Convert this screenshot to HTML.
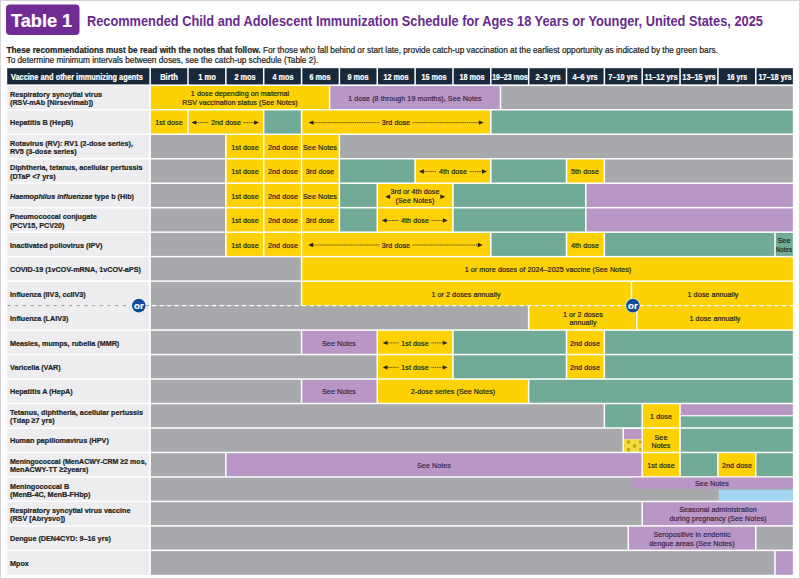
<!DOCTYPE html>
<html><head><meta charset="utf-8"><title>Table 1</title>
<style>
html,body{margin:0;padding:0;background:#fff;}
body{width:800px;height:579px;position:relative;overflow:hidden;font-family:'Liberation Sans', sans-serif;}
.r{position:absolute;}
.t{position:absolute;white-space:nowrap;-webkit-text-stroke:0.22px currentColor;}
#frame{position:absolute;left:0;top:0;width:798px;height:577px;border:1px solid #d4d4d6;}
svg{position:absolute;left:0;top:0;}
.dl{stroke:#231f20;stroke-width:1;stroke-dasharray:1.2 0.6;opacity:0.7;}
</style></head><body>
<div id="frame"></div>

<svg width="800" height="579" viewBox="0 0 800 579">
<rect x="6.00" y="4.50" width="73.50" height="30.50" fill="#702c94" rx="4"/>
<rect x="7.20" y="68.20" width="142.20" height="16.20" fill="#17293a"/>
<rect x="150.90" y="68.20" width="36.35" height="16.20" fill="#17293a"/>
<rect x="188.75" y="68.20" width="36.35" height="16.20" fill="#17293a"/>
<rect x="226.60" y="68.20" width="36.35" height="16.20" fill="#17293a"/>
<rect x="264.45" y="68.20" width="36.35" height="16.20" fill="#17293a"/>
<rect x="302.30" y="68.20" width="36.35" height="16.20" fill="#17293a"/>
<rect x="340.15" y="68.20" width="36.35" height="16.20" fill="#17293a"/>
<rect x="378.00" y="68.20" width="36.35" height="16.20" fill="#17293a"/>
<rect x="415.85" y="68.20" width="36.35" height="16.20" fill="#17293a"/>
<rect x="453.70" y="68.20" width="36.35" height="16.20" fill="#17293a"/>
<rect x="491.55" y="68.20" width="36.35" height="16.20" fill="#17293a"/>
<rect x="529.40" y="68.20" width="36.35" height="16.20" fill="#17293a"/>
<rect x="567.25" y="68.20" width="36.35" height="16.20" fill="#17293a"/>
<rect x="605.10" y="68.20" width="36.35" height="16.20" fill="#17293a"/>
<rect x="642.95" y="68.20" width="36.35" height="16.20" fill="#17293a"/>
<rect x="680.80" y="68.20" width="36.35" height="16.20" fill="#17293a"/>
<rect x="718.65" y="68.20" width="36.35" height="16.20" fill="#17293a"/>
<rect x="756.50" y="68.20" width="36.35" height="16.20" fill="#17293a"/>
<rect x="7.20" y="86.05" width="142.20" height="22.98" fill="#ededf0"/>
<rect x="7.20" y="110.53" width="142.20" height="22.98" fill="#ededf0"/>
<rect x="7.20" y="135.01" width="142.20" height="22.98" fill="#ededf0"/>
<rect x="7.20" y="159.48" width="142.20" height="22.98" fill="#ededf0"/>
<rect x="7.20" y="183.96" width="142.20" height="22.98" fill="#ededf0"/>
<rect x="7.20" y="208.44" width="142.20" height="22.98" fill="#ededf0"/>
<rect x="7.20" y="232.92" width="142.20" height="22.98" fill="#ededf0"/>
<rect x="7.20" y="257.40" width="142.20" height="22.98" fill="#ededf0"/>
<rect x="7.20" y="281.87" width="142.20" height="23.73" fill="#ededf0"/>
<rect x="7.20" y="305.60" width="142.20" height="23.73" fill="#ededf0"/>
<rect x="7.20" y="330.83" width="142.20" height="22.98" fill="#ededf0"/>
<rect x="7.20" y="355.31" width="142.20" height="22.98" fill="#ededf0"/>
<rect x="7.20" y="379.79" width="142.20" height="22.98" fill="#ededf0"/>
<rect x="7.20" y="404.26" width="142.20" height="22.98" fill="#ededf0"/>
<rect x="7.20" y="428.74" width="142.20" height="22.98" fill="#ededf0"/>
<rect x="7.20" y="453.22" width="142.20" height="22.98" fill="#ededf0"/>
<rect x="7.20" y="477.70" width="142.20" height="22.98" fill="#ededf0"/>
<rect x="7.20" y="502.18" width="142.20" height="22.98" fill="#ededf0"/>
<rect x="7.20" y="526.65" width="142.20" height="22.98" fill="#ededf0"/>
<rect x="7.20" y="551.13" width="142.20" height="23.67" fill="#ededf0"/>
<rect x="150.90" y="86.05" width="177.95" height="22.98" fill="#fed105"/>
<rect x="330.35" y="86.05" width="169.40" height="22.98" fill="#b897c7"/>
<rect x="501.25" y="86.05" width="291.60" height="22.98" fill="#a8a9ad"/>
<rect x="150.90" y="110.53" width="36.35" height="22.98" fill="#fed105"/>
<rect x="188.75" y="110.53" width="74.20" height="22.98" fill="#fed105"/>
<rect x="264.45" y="110.53" width="36.35" height="22.98" fill="#71ab97"/>
<rect x="302.30" y="110.53" width="187.75" height="22.98" fill="#fed105"/>
<rect x="491.55" y="110.53" width="301.30" height="22.98" fill="#71ab97"/>
<rect x="150.90" y="135.01" width="74.20" height="22.98" fill="#a8a9ad"/>
<rect x="226.60" y="135.01" width="36.35" height="22.98" fill="#fed105"/>
<rect x="264.45" y="135.01" width="36.35" height="22.98" fill="#fed105"/>
<rect x="302.30" y="135.01" width="36.35" height="22.98" fill="#fed105"/>
<rect x="340.15" y="135.01" width="452.70" height="22.98" fill="#a8a9ad"/>
<rect x="150.90" y="159.48" width="74.20" height="22.98" fill="#a8a9ad"/>
<rect x="226.60" y="159.48" width="36.35" height="22.98" fill="#fed105"/>
<rect x="264.45" y="159.48" width="36.35" height="22.98" fill="#fed105"/>
<rect x="302.30" y="159.48" width="36.35" height="22.98" fill="#fed105"/>
<rect x="340.15" y="159.48" width="74.20" height="22.98" fill="#71ab97"/>
<rect x="415.85" y="159.48" width="74.20" height="22.98" fill="#fed105"/>
<rect x="491.55" y="159.48" width="74.20" height="22.98" fill="#71ab97"/>
<rect x="567.25" y="159.48" width="36.35" height="22.98" fill="#fed105"/>
<rect x="605.10" y="159.48" width="187.75" height="22.98" fill="#a8a9ad"/>
<rect x="150.90" y="183.96" width="74.20" height="22.98" fill="#a8a9ad"/>
<rect x="226.60" y="183.96" width="36.35" height="22.98" fill="#fed105"/>
<rect x="264.45" y="183.96" width="36.35" height="22.98" fill="#fed105"/>
<rect x="302.30" y="183.96" width="36.35" height="22.98" fill="#fed105"/>
<rect x="340.15" y="183.96" width="36.35" height="22.98" fill="#71ab97"/>
<rect x="378.00" y="183.96" width="74.20" height="22.98" fill="#fed105"/>
<rect x="453.70" y="183.96" width="131.30" height="22.98" fill="#71ab97"/>
<rect x="586.50" y="183.96" width="206.35" height="22.98" fill="#b897c7"/>
<rect x="150.90" y="208.44" width="74.20" height="22.98" fill="#a8a9ad"/>
<rect x="226.60" y="208.44" width="36.35" height="22.98" fill="#fed105"/>
<rect x="264.45" y="208.44" width="36.35" height="22.98" fill="#fed105"/>
<rect x="302.30" y="208.44" width="36.35" height="22.98" fill="#fed105"/>
<rect x="340.15" y="208.44" width="36.35" height="22.98" fill="#71ab97"/>
<rect x="378.00" y="208.44" width="74.20" height="22.98" fill="#fed105"/>
<rect x="453.70" y="208.44" width="131.30" height="22.98" fill="#71ab97"/>
<rect x="586.50" y="208.44" width="206.35" height="22.98" fill="#b897c7"/>
<rect x="150.90" y="232.92" width="74.20" height="22.98" fill="#a8a9ad"/>
<rect x="226.60" y="232.92" width="36.35" height="22.98" fill="#fed105"/>
<rect x="264.45" y="232.92" width="36.35" height="22.98" fill="#fed105"/>
<rect x="302.30" y="232.92" width="187.75" height="22.98" fill="#fed105"/>
<rect x="491.55" y="232.92" width="74.20" height="22.98" fill="#71ab97"/>
<rect x="567.25" y="232.92" width="36.35" height="22.98" fill="#fed105"/>
<rect x="605.10" y="232.92" width="169.15" height="22.98" fill="#71ab97"/>
<rect x="775.75" y="232.92" width="17.10" height="22.98" fill="#71ab97"/>
<rect x="150.90" y="257.40" width="149.90" height="22.98" fill="#a8a9ad"/>
<rect x="302.30" y="257.40" width="490.55" height="22.98" fill="#fed105"/>
<rect x="150.90" y="281.87" width="149.90" height="23.73" fill="#a8a9ad"/>
<rect x="302.30" y="281.87" width="328.35" height="23.73" fill="#fed105"/>
<rect x="632.15" y="281.87" width="160.70" height="23.73" fill="#fed105"/>
<rect x="150.90" y="305.60" width="377.00" height="23.73" fill="#a8a9ad"/>
<rect x="529.40" y="305.60" width="106.65" height="23.73" fill="#fed105"/>
<rect x="637.55" y="305.60" width="155.30" height="23.73" fill="#fed105"/>
<rect x="150.90" y="330.83" width="149.90" height="22.98" fill="#a8a9ad"/>
<rect x="302.30" y="330.83" width="74.20" height="22.98" fill="#b897c7"/>
<rect x="378.00" y="330.83" width="74.20" height="22.98" fill="#fed105"/>
<rect x="453.70" y="330.83" width="112.05" height="22.98" fill="#71ab97"/>
<rect x="567.25" y="330.83" width="36.35" height="22.98" fill="#fed105"/>
<rect x="605.10" y="330.83" width="187.75" height="22.98" fill="#71ab97"/>
<rect x="150.90" y="355.31" width="225.60" height="22.98" fill="#a8a9ad"/>
<rect x="378.00" y="355.31" width="74.20" height="22.98" fill="#fed105"/>
<rect x="453.70" y="355.31" width="112.05" height="22.98" fill="#71ab97"/>
<rect x="567.25" y="355.31" width="36.35" height="22.98" fill="#fed105"/>
<rect x="605.10" y="355.31" width="187.75" height="22.98" fill="#71ab97"/>
<rect x="150.90" y="379.79" width="149.90" height="22.98" fill="#a8a9ad"/>
<rect x="302.30" y="379.79" width="74.20" height="22.98" fill="#b897c7"/>
<rect x="378.00" y="379.79" width="149.90" height="22.98" fill="#fed105"/>
<rect x="529.40" y="379.79" width="263.45" height="22.98" fill="#71ab97"/>
<rect x="150.90" y="404.26" width="452.70" height="22.98" fill="#a8a9ad"/>
<rect x="605.10" y="404.26" width="36.35" height="22.98" fill="#71ab97"/>
<rect x="642.95" y="404.26" width="36.35" height="22.98" fill="#fed105"/>
<rect x="680.80" y="404.26" width="112.05" height="10.89" fill="#b897c7"/>
<rect x="680.80" y="416.35" width="112.05" height="10.89" fill="#71ab97"/>
<rect x="150.90" y="428.74" width="471.60" height="22.98" fill="#a8a9ad"/>
<rect x="624.00" y="429.04" width="17.45" height="10.36" fill="#b897c7"/>
<rect x="624.00" y="439.40" width="17.45" height="12.32" fill="#f3dc3c"/>
<rect x="627.00" y="440.50" width="3.20" height="3.10" fill="#c4a02a"/>
<rect x="639.20" y="440.50" width="2.25" height="3.10" fill="#c4a02a"/>
<rect x="633.00" y="444.40" width="3.20" height="3.10" fill="#c4a02a"/>
<rect x="624.00" y="444.40" width="0.40" height="3.10" fill="#c4a02a"/>
<rect x="627.00" y="448.20" width="3.20" height="3.05" fill="#c4a02a"/>
<rect x="639.20" y="448.20" width="2.25" height="3.05" fill="#c4a02a"/>
<rect x="642.95" y="428.74" width="36.35" height="22.98" fill="#fed105"/>
<rect x="680.80" y="428.74" width="112.05" height="22.98" fill="#71ab97"/>
<rect x="150.90" y="453.22" width="74.20" height="22.98" fill="#a8a9ad"/>
<rect x="226.60" y="453.22" width="414.85" height="22.98" fill="#b897c7"/>
<rect x="642.95" y="453.22" width="36.35" height="22.98" fill="#fed105"/>
<rect x="680.80" y="453.22" width="36.35" height="22.98" fill="#71ab97"/>
<rect x="718.65" y="453.22" width="36.35" height="22.98" fill="#fed105"/>
<rect x="756.50" y="453.22" width="36.35" height="22.98" fill="#71ab97"/>
<rect x="150.90" y="477.70" width="641.95" height="22.98" fill="#a8a9ad"/>
<rect x="631.75" y="477.70" width="161.10" height="10.89" fill="#b897c7"/>
<rect x="718.65" y="489.79" width="74.20" height="10.89" fill="#a3d6f2"/>
<rect x="150.90" y="502.18" width="490.55" height="22.98" fill="#a8a9ad"/>
<rect x="642.95" y="502.18" width="149.90" height="22.98" fill="#b897c7"/>
<rect x="150.90" y="526.65" width="476.65" height="22.98" fill="#a8a9ad"/>
<rect x="629.05" y="526.65" width="125.95" height="22.98" fill="#b897c7"/>
<rect x="756.50" y="526.65" width="36.35" height="22.98" fill="#a8a9ad"/>
<rect x="150.90" y="551.13" width="623.35" height="23.67" fill="#a8a9ad"/>
<rect x="775.75" y="551.13" width="17.10" height="23.67" fill="#b897c7"/>
<path d="M191.50 122.62L196.30 120.42L196.30 124.82Z" fill="#231f20"/>
<path d="M258.95 122.62L254.15 120.42L254.15 124.82Z" fill="#231f20"/>
<line x1="196.30" y1="122.62" x2="208.37" y2="122.62" class="dl"/>
<line x1="243.33" y1="122.62" x2="254.15" y2="122.62" class="dl"/>
<path d="M308.70 122.62L313.50 120.42L313.50 124.82Z" fill="#231f20"/>
<path d="M483.65 122.62L478.85 120.42L478.85 124.82Z" fill="#231f20"/>
<line x1="313.50" y1="122.62" x2="379.51" y2="122.62" class="dl"/>
<line x1="412.84" y1="122.62" x2="478.85" y2="122.62" class="dl"/>
<path d="M419.05 171.57L423.85 169.37L423.85 173.77Z" fill="#231f20"/>
<path d="M486.85 171.57L482.05 169.37L482.05 173.77Z" fill="#231f20"/>
<line x1="423.85" y1="171.57" x2="436.49" y2="171.57" class="dl"/>
<line x1="469.41" y1="171.57" x2="482.05" y2="171.57" class="dl"/>
<path d="M385.30 196.75L390.10 194.55L390.10 198.95Z" fill="#231f20"/>
<path d="M445.20 196.75L440.40 194.55L440.40 198.95Z" fill="#231f20"/>
<path d="M381.80 220.53L386.60 218.33L386.60 222.73Z" fill="#231f20"/>
<path d="M447.70 220.53L442.90 218.33L442.90 222.73Z" fill="#231f20"/>
<line x1="386.60" y1="220.53" x2="398.64" y2="220.53" class="dl"/>
<line x1="431.56" y1="220.53" x2="442.90" y2="220.53" class="dl"/>
<path d="M308.30 245.01L313.10 242.81L313.10 247.21Z" fill="#231f20"/>
<path d="M482.55 245.01L477.75 242.81L477.75 247.21Z" fill="#231f20"/>
<line x1="313.10" y1="245.01" x2="379.51" y2="245.01" class="dl"/>
<line x1="412.84" y1="245.01" x2="477.75" y2="245.01" class="dl"/>
<path d="M382.70 342.92L387.50 340.72L387.50 345.12Z" fill="#231f20"/>
<path d="M447.60 342.92L442.80 340.72L442.80 345.12Z" fill="#231f20"/>
<line x1="387.50" y1="342.92" x2="398.84" y2="342.92" class="dl"/>
<line x1="431.36" y1="342.92" x2="442.80" y2="342.92" class="dl"/>
<path d="M382.70 367.40L387.50 365.20L387.50 369.60Z" fill="#231f20"/>
<path d="M447.60 367.40L442.80 365.20L442.80 369.60Z" fill="#231f20"/>
<line x1="387.50" y1="367.40" x2="398.84" y2="367.40" class="dl"/>
<line x1="431.36" y1="367.40" x2="442.80" y2="367.40" class="dl"/>
<line x1="7.5" y1="305.60" x2="149.40" y2="305.60" stroke="#9a9a9e" stroke-width="1" stroke-dasharray="3 4.7"/>
<line x1="150.90" y1="305.60" x2="792.85" y2="305.60" stroke="#ffffff" stroke-width="1.2" stroke-dasharray="4 3.5" stroke-dashoffset="-1.2"/>
<circle cx="138.8" cy="305.6" r="7.4" fill="#ffffff" opacity="0.85"/>
<circle cx="138.8" cy="305.6" r="6.8" fill="#0f4c97"/>
<circle cx="632.9" cy="305.6" r="7.4" fill="#ffffff" opacity="0.85"/>
<circle cx="632.9" cy="305.6" r="6.8" fill="#0f4c97"/>
</svg>
<div class="t" style="top:10px;font-size:19px;line-height:22.80px;color:#fff;font-weight:bold;left:11.20px;transform:scaleX(0.9550);transform-origin:0 0;">Table 1</div>
<div class="t" style="top:13px;font-size:14.8px;line-height:17.76px;color:#672a8e;font-weight:bold;left:87.00px;transform:scaleX(0.8637);transform-origin:0 0;-webkit-text-stroke:0;">Recommended Child and Adolescent Immunization Schedule for Ages 18 Years or Younger, United States, 2025</div>
<div class="t" style="left:6.5px;top:46px;font-size:8.25px;line-height:9.90px;color:#231f20"><b>These recommendations must be read with the notes that follow.</b> For those who fall behind or start late, provide catch-up vaccination at the earliest opportunity as indicated by the green bars.</div>
<div class="t" style="top:56px;font-size:8.25px;line-height:9.90px;color:#231f20;left:6.50px;">To determine minimum intervals between doses, see the catch-up schedule (Table 2).</div>
<div class="t" style="top:72px;font-size:8.4px;line-height:10.08px;color:#fff;font-weight:bold;left:11.00px;transform:scaleX(0.8800);transform-origin:0 0;">Vaccine and other immunizing agents</div>
<div class="t" style="top:72px;font-size:8.5px;line-height:10.20px;color:#fff;font-weight:bold;left:-30.93px;width:400px;text-align:center;transform:scaleX(0.8926);">Birth</div>
<div class="t" style="top:72px;font-size:8.5px;line-height:10.20px;color:#fff;font-weight:bold;left:6.93px;width:400px;text-align:center;transform:scaleX(0.8821);">1 mo</div>
<div class="t" style="top:72px;font-size:8.5px;line-height:10.20px;color:#fff;font-weight:bold;left:44.78px;width:400px;text-align:center;transform:scaleX(0.8588);">2 mos</div>
<div class="t" style="top:72px;font-size:8.5px;line-height:10.20px;color:#fff;font-weight:bold;left:82.62px;width:400px;text-align:center;transform:scaleX(0.8588);">4 mos</div>
<div class="t" style="top:72px;font-size:8.5px;line-height:10.20px;color:#fff;font-weight:bold;left:120.48px;width:400px;text-align:center;transform:scaleX(0.8588);">6 mos</div>
<div class="t" style="top:72px;font-size:8.5px;line-height:10.20px;color:#fff;font-weight:bold;left:158.32px;width:400px;text-align:center;transform:scaleX(0.8588);">9 mos</div>
<div class="t" style="top:72px;font-size:8.5px;line-height:10.20px;color:#fff;font-weight:bold;left:196.18px;width:400px;text-align:center;transform:scaleX(0.8588);">12 mos</div>
<div class="t" style="top:72px;font-size:8.5px;line-height:10.20px;color:#fff;font-weight:bold;left:234.03px;width:400px;text-align:center;transform:scaleX(0.8588);">15 mos</div>
<div class="t" style="top:72px;font-size:8.5px;line-height:10.20px;color:#fff;font-weight:bold;left:271.88px;width:400px;text-align:center;transform:scaleX(0.8588);">18 mos</div>
<div class="t" style="top:72px;font-size:8.5px;line-height:10.20px;color:#fff;font-weight:bold;left:309.73px;width:400px;text-align:center;transform:scaleX(0.8166);">19–23 mos</div>
<div class="t" style="top:72px;font-size:8.5px;line-height:10.20px;color:#fff;font-weight:bold;left:347.58px;width:400px;text-align:center;transform:scaleX(0.8588);">2–3 yrs</div>
<div class="t" style="top:72px;font-size:8.5px;line-height:10.20px;color:#fff;font-weight:bold;left:385.42px;width:400px;text-align:center;transform:scaleX(0.8588);">4–6 yrs</div>
<div class="t" style="top:72px;font-size:8.5px;line-height:10.20px;color:#fff;font-weight:bold;left:423.28px;width:400px;text-align:center;transform:scaleX(0.8588);">7–10 yrs</div>
<div class="t" style="top:72px;font-size:8.5px;line-height:10.20px;color:#fff;font-weight:bold;left:461.12px;width:400px;text-align:center;transform:scaleX(0.8619);">11–12 yrs</div>
<div class="t" style="top:72px;font-size:8.5px;line-height:10.20px;color:#fff;font-weight:bold;left:498.97px;width:400px;text-align:center;transform:scaleX(0.8592);">13–15 yrs</div>
<div class="t" style="top:72px;font-size:8.5px;line-height:10.20px;color:#fff;font-weight:bold;left:536.83px;width:400px;text-align:center;transform:scaleX(0.8138);">16 yrs</div>
<div class="t" style="top:72px;font-size:8.5px;line-height:10.20px;color:#fff;font-weight:bold;left:574.67px;width:400px;text-align:center;transform:scaleX(0.8515);">17–18 yrs</div>
<div class="t" style="top:90px;font-size:8.0px;line-height:9.60px;color:#231f20;font-weight:bold;left:10.30px;transform:scaleX(0.9000);transform-origin:0 0;">Respiratory syncytial virus</div>
<div class="t" style="top:98px;font-size:8.0px;line-height:9.60px;color:#231f20;font-weight:bold;left:10.30px;transform:scaleX(0.9000);transform-origin:0 0;">(RSV-mAb [Nirsevimab])</div>
<div class="t" style="top:118px;font-size:8.0px;line-height:9.60px;color:#231f20;font-weight:bold;left:10.30px;transform:scaleX(0.9000);transform-origin:0 0;">Hepatitis B (HepB)</div>
<div class="t" style="top:139px;font-size:8.0px;line-height:9.60px;color:#231f20;font-weight:bold;left:10.30px;transform:scaleX(0.9000);transform-origin:0 0;">Rotavirus (RV): RV1 (2-dose series),</div>
<div class="t" style="top:147px;font-size:8.0px;line-height:9.60px;color:#231f20;font-weight:bold;left:10.30px;transform:scaleX(0.9000);transform-origin:0 0;">RV5 (3-dose series)</div>
<div class="t" style="top:163px;font-size:8.0px;line-height:9.60px;color:#231f20;font-weight:bold;left:10.30px;transform:scaleX(0.9000);transform-origin:0 0;">Diphtheria, tetanus, acellular pertussis</div>
<div class="t" style="top:172px;font-size:8.0px;line-height:9.60px;color:#231f20;font-weight:bold;left:10.30px;transform:scaleX(0.9000);transform-origin:0 0;">(DTaP &lt;7 yrs)</div>
<div class="t" style="top:192px;font-size:8.0px;line-height:9.60px;color:#231f20;font-weight:bold;left:10.30px;transform:scaleX(0.9000);transform-origin:0 0;"><i>Haemophilus influenzae</i> type b (Hib)</div>
<div class="t" style="top:212px;font-size:8.0px;line-height:9.60px;color:#231f20;font-weight:bold;left:10.30px;transform:scaleX(0.9000);transform-origin:0 0;">Pneumococcal conjugate</div>
<div class="t" style="top:221px;font-size:8.0px;line-height:9.60px;color:#231f20;font-weight:bold;left:10.30px;transform:scaleX(0.9000);transform-origin:0 0;">(PCV15, PCV20)</div>
<div class="t" style="top:241px;font-size:8.0px;line-height:9.60px;color:#231f20;font-weight:bold;left:10.30px;transform:scaleX(0.9000);transform-origin:0 0;">Inactivated poliovirus (IPV)</div>
<div class="t" style="top:265px;font-size:8.0px;line-height:9.60px;color:#231f20;font-weight:bold;left:10.30px;transform:scaleX(0.9000);transform-origin:0 0;">COVID-19 (1vCOV-mRNA, 1vCOV-aPS)</div>
<div class="t" style="top:290px;font-size:8.0px;line-height:9.60px;color:#231f20;font-weight:bold;left:10.30px;transform:scaleX(0.9000);transform-origin:0 0;">Influenza (IIV3, ccIIV3)</div>
<div class="t" style="top:314px;font-size:8.0px;line-height:9.60px;color:#231f20;font-weight:bold;left:10.30px;transform:scaleX(0.9000);transform-origin:0 0;">Influenza (LAIV3)</div>
<div class="t" style="top:339px;font-size:8.0px;line-height:9.60px;color:#231f20;font-weight:bold;left:10.30px;transform:scaleX(0.9000);transform-origin:0 0;">Measles, mumps, rubella (MMR)</div>
<div class="t" style="top:363px;font-size:8.0px;line-height:9.60px;color:#231f20;font-weight:bold;left:10.30px;transform:scaleX(0.9000);transform-origin:0 0;">Varicella (VAR)</div>
<div class="t" style="top:387px;font-size:8.0px;line-height:9.60px;color:#231f20;font-weight:bold;left:10.30px;transform:scaleX(0.9000);transform-origin:0 0;">Hepatitis A (HepA)</div>
<div class="t" style="top:408px;font-size:8.0px;line-height:9.60px;color:#231f20;font-weight:bold;left:10.30px;transform:scaleX(0.9000);transform-origin:0 0;">Tetanus, diphtheria, acellular pertussis</div>
<div class="t" style="top:416px;font-size:8.0px;line-height:9.60px;color:#231f20;font-weight:bold;left:10.30px;transform:scaleX(0.9000);transform-origin:0 0;">(Tdap ≥7 yrs)</div>
<div class="t" style="top:436px;font-size:8.0px;line-height:9.60px;color:#231f20;font-weight:bold;left:10.30px;transform:scaleX(0.9000);transform-origin:0 0;">Human papillomavirus (HPV)</div>
<div class="t" style="top:457px;font-size:8.0px;line-height:9.60px;color:#231f20;font-weight:bold;left:10.30px;transform:scaleX(0.8778);transform-origin:0 0;">Meningococcal (MenACWY-CRM ≥2 mos,</div>
<div class="t" style="top:465px;font-size:8.0px;line-height:9.60px;color:#231f20;font-weight:bold;left:10.30px;transform:scaleX(0.9000);transform-origin:0 0;">MenACWY-TT ≥2years)</div>
<div class="t" style="top:482px;font-size:8.0px;line-height:9.60px;color:#231f20;font-weight:bold;left:10.30px;transform:scaleX(0.9000);transform-origin:0 0;">Meningococcal B</div>
<div class="t" style="top:490px;font-size:8.0px;line-height:9.60px;color:#231f20;font-weight:bold;left:10.30px;transform:scaleX(0.9000);transform-origin:0 0;">(MenB-4C, MenB-FHbp)</div>
<div class="t" style="top:506px;font-size:8.0px;line-height:9.60px;color:#231f20;font-weight:bold;left:10.30px;transform:scaleX(0.9000);transform-origin:0 0;">Respiratory syncytial virus vaccine</div>
<div class="t" style="top:514px;font-size:8.0px;line-height:9.60px;color:#231f20;font-weight:bold;left:10.30px;transform:scaleX(0.9000);transform-origin:0 0;">(RSV [Abrysvo])</div>
<div class="t" style="top:534px;font-size:8.0px;line-height:9.60px;color:#231f20;font-weight:bold;left:10.30px;transform:scaleX(0.9000);transform-origin:0 0;">Dengue (DEN4CYD: 9–16 yrs)</div>
<div class="t" style="top:559px;font-size:8.0px;line-height:9.60px;color:#231f20;font-weight:bold;left:10.30px;transform:scaleX(0.9000);transform-origin:0 0;">Mpox</div>
<div class="t" style="top:89px;font-size:8.1px;line-height:9.72px;color:#231f20;left:39.88px;width:400px;text-align:center;transform:scaleX(0.8807);letter-spacing:0.08px;">1 dose depending on maternal</div>
<div class="t" style="top:98px;font-size:8.1px;line-height:9.72px;color:#231f20;left:39.88px;width:400px;text-align:center;transform:scaleX(0.8802);letter-spacing:0.08px;">RSV vaccination status (See Notes)</div>
<div class="t" style="top:94px;font-size:8.1px;line-height:9.72px;color:#3a2747;left:215.05px;width:400px;text-align:center;transform:scaleX(0.8803);letter-spacing:0.08px;">1 dose (8 through 19 months), See Notes</div>
<div class="t" style="top:118px;font-size:8.1px;line-height:9.72px;color:#231f20;left:-30.93px;width:400px;text-align:center;transform:scaleX(0.8804);letter-spacing:0.08px;">1st dose</div>
<div class="t" style="top:118px;font-size:8.1px;line-height:9.72px;color:#231f20;left:25.85px;width:400px;text-align:center;transform:scaleX(0.8818);letter-spacing:0.08px;">2nd dose</div>
<div class="t" style="top:118px;font-size:8.1px;line-height:9.72px;color:#231f20;left:196.18px;width:400px;text-align:center;transform:scaleX(0.8809);letter-spacing:0.08px;">3rd dose</div>
<div class="t" style="top:143px;font-size:8.1px;line-height:9.72px;color:#231f20;left:44.78px;width:400px;text-align:center;transform:scaleX(0.8804);letter-spacing:0.08px;">1st dose</div>
<div class="t" style="top:143px;font-size:8.1px;line-height:9.72px;color:#231f20;left:82.62px;width:400px;text-align:center;transform:scaleX(0.8818);letter-spacing:0.08px;">2nd dose</div>
<div class="t" style="top:143px;font-size:8.1px;line-height:9.72px;color:#231f20;left:120.48px;width:400px;text-align:center;transform:scaleX(0.8820);letter-spacing:0.08px;">See Notes</div>
<div class="t" style="top:167px;font-size:8.1px;line-height:9.72px;color:#231f20;left:44.78px;width:400px;text-align:center;transform:scaleX(0.8804);letter-spacing:0.08px;">1st dose</div>
<div class="t" style="top:167px;font-size:8.1px;line-height:9.72px;color:#231f20;left:82.62px;width:400px;text-align:center;transform:scaleX(0.8818);letter-spacing:0.08px;">2nd dose</div>
<div class="t" style="top:167px;font-size:8.1px;line-height:9.72px;color:#231f20;left:120.48px;width:400px;text-align:center;transform:scaleX(0.8809);letter-spacing:0.08px;">3rd dose</div>
<div class="t" style="top:167px;font-size:8.1px;line-height:9.72px;color:#231f20;left:252.95px;width:400px;text-align:center;transform:scaleX(0.8806);letter-spacing:0.08px;">4th dose</div>
<div class="t" style="top:167px;font-size:8.1px;line-height:9.72px;color:#231f20;left:385.42px;width:400px;text-align:center;transform:scaleX(0.8806);letter-spacing:0.08px;">5th dose</div>
<div class="t" style="top:192px;font-size:8.1px;line-height:9.72px;color:#231f20;left:44.78px;width:400px;text-align:center;transform:scaleX(0.8804);letter-spacing:0.08px;">1st dose</div>
<div class="t" style="top:192px;font-size:8.1px;line-height:9.72px;color:#231f20;left:82.62px;width:400px;text-align:center;transform:scaleX(0.8818);letter-spacing:0.08px;">2nd dose</div>
<div class="t" style="top:192px;font-size:8.1px;line-height:9.72px;color:#231f20;left:120.48px;width:400px;text-align:center;transform:scaleX(0.8820);letter-spacing:0.08px;">See Notes</div>
<div class="t" style="top:187px;font-size:8.1px;line-height:9.72px;color:#231f20;left:215.10px;width:400px;text-align:center;transform:scaleX(0.8794);letter-spacing:0.08px;">3rd or 4th dose</div>
<div class="t" style="top:196px;font-size:8.1px;line-height:9.72px;color:#231f20;left:215.10px;width:400px;text-align:center;transform:scaleX(0.8808);letter-spacing:0.08px;">(See Notes)</div>
<div class="t" style="top:216px;font-size:8.1px;line-height:9.72px;color:#231f20;left:44.78px;width:400px;text-align:center;transform:scaleX(0.8804);letter-spacing:0.08px;">1st dose</div>
<div class="t" style="top:216px;font-size:8.1px;line-height:9.72px;color:#231f20;left:82.62px;width:400px;text-align:center;transform:scaleX(0.8818);letter-spacing:0.08px;">2nd dose</div>
<div class="t" style="top:216px;font-size:8.1px;line-height:9.72px;color:#231f20;left:120.48px;width:400px;text-align:center;transform:scaleX(0.8809);letter-spacing:0.08px;">3rd dose</div>
<div class="t" style="top:216px;font-size:8.1px;line-height:9.72px;color:#231f20;left:215.10px;width:400px;text-align:center;transform:scaleX(0.8806);letter-spacing:0.08px;">4th dose</div>
<div class="t" style="top:241px;font-size:8.1px;line-height:9.72px;color:#231f20;left:44.78px;width:400px;text-align:center;transform:scaleX(0.8804);letter-spacing:0.08px;">1st dose</div>
<div class="t" style="top:241px;font-size:8.1px;line-height:9.72px;color:#231f20;left:82.62px;width:400px;text-align:center;transform:scaleX(0.8818);letter-spacing:0.08px;">2nd dose</div>
<div class="t" style="top:241px;font-size:8.1px;line-height:9.72px;color:#231f20;left:196.18px;width:400px;text-align:center;transform:scaleX(0.8809);letter-spacing:0.08px;">3rd dose</div>
<div class="t" style="top:241px;font-size:8.1px;line-height:9.72px;color:#231f20;left:385.42px;width:400px;text-align:center;transform:scaleX(0.8806);letter-spacing:0.08px;">4th dose</div>
<div class="t" style="top:236px;font-size:8.1px;line-height:9.72px;color:#231f20;left:584.30px;width:400px;text-align:center;transform:scaleX(0.8840);letter-spacing:0.08px;">See</div>
<div class="t" style="top:245px;font-size:8.1px;line-height:9.72px;color:#231f20;left:584.30px;width:400px;text-align:center;transform:scaleX(0.7607);letter-spacing:0.08px;">Notes</div>
<div class="t" style="top:265px;font-size:8.1px;line-height:9.72px;color:#231f20;left:347.58px;width:400px;text-align:center;transform:scaleX(0.8805);letter-spacing:0.08px;">1 or more doses of 2024–2025 vaccine (See Notes)</div>
<div class="t" style="top:290px;font-size:8.1px;line-height:9.72px;color:#231f20;left:266.48px;width:400px;text-align:center;transform:scaleX(0.8796);letter-spacing:0.08px;">1 or 2 doses annually</div>
<div class="t" style="top:290px;font-size:8.1px;line-height:9.72px;color:#231f20;left:512.50px;width:400px;text-align:center;transform:scaleX(0.8802);letter-spacing:0.08px;">1 dose annually</div>
<div class="t" style="top:310px;font-size:8.1px;line-height:9.72px;color:#231f20;left:382.72px;width:400px;text-align:center;transform:scaleX(0.8798);letter-spacing:0.08px;">1 or 2 doses</div>
<div class="t" style="top:318px;font-size:8.1px;line-height:9.72px;color:#231f20;left:382.72px;width:400px;text-align:center;transform:scaleX(0.8801);letter-spacing:0.08px;">annually</div>
<div class="t" style="top:314px;font-size:8.1px;line-height:9.72px;color:#231f20;left:515.20px;width:400px;text-align:center;transform:scaleX(0.8802);letter-spacing:0.08px;">1 dose annually</div>
<div class="t" style="top:339px;font-size:8.1px;line-height:9.72px;color:#3a2747;left:139.40px;width:400px;text-align:center;transform:scaleX(0.8820);letter-spacing:0.08px;">See Notes</div>
<div class="t" style="top:339px;font-size:8.1px;line-height:9.72px;color:#231f20;left:215.10px;width:400px;text-align:center;transform:scaleX(0.8804);letter-spacing:0.08px;">1st dose</div>
<div class="t" style="top:339px;font-size:8.1px;line-height:9.72px;color:#231f20;left:385.42px;width:400px;text-align:center;transform:scaleX(0.8818);letter-spacing:0.08px;">2nd dose</div>
<div class="t" style="top:363px;font-size:8.1px;line-height:9.72px;color:#231f20;left:215.10px;width:400px;text-align:center;transform:scaleX(0.8804);letter-spacing:0.08px;">1st dose</div>
<div class="t" style="top:363px;font-size:8.1px;line-height:9.72px;color:#231f20;left:385.42px;width:400px;text-align:center;transform:scaleX(0.8818);letter-spacing:0.08px;">2nd dose</div>
<div class="t" style="top:387px;font-size:8.1px;line-height:9.72px;color:#3a2747;left:139.40px;width:400px;text-align:center;transform:scaleX(0.8820);letter-spacing:0.08px;">See Notes</div>
<div class="t" style="top:387px;font-size:8.1px;line-height:9.72px;color:#231f20;left:252.95px;width:400px;text-align:center;transform:scaleX(0.8801);letter-spacing:0.08px;">2-dose series (See Notes)</div>
<div class="t" style="top:412px;font-size:8.1px;line-height:9.72px;color:#231f20;left:461.12px;width:400px;text-align:center;transform:scaleX(0.8814);letter-spacing:0.08px;">1 dose</div>
<div class="t" style="top:433px;font-size:8.1px;line-height:9.72px;color:#231f20;left:461.12px;width:400px;text-align:center;transform:scaleX(0.8840);letter-spacing:0.08px;">See</div>
<div class="t" style="top:441px;font-size:8.1px;line-height:9.72px;color:#231f20;left:461.12px;width:400px;text-align:center;transform:scaleX(0.8821);letter-spacing:0.08px;">Notes</div>
<div class="t" style="top:461px;font-size:8.1px;line-height:9.72px;color:#3a2747;left:234.03px;width:400px;text-align:center;transform:scaleX(0.8820);letter-spacing:0.08px;">See Notes</div>
<div class="t" style="top:461px;font-size:8.1px;line-height:9.72px;color:#231f20;left:461.12px;width:400px;text-align:center;transform:scaleX(0.8804);letter-spacing:0.08px;">1st dose</div>
<div class="t" style="top:461px;font-size:8.1px;line-height:9.72px;color:#231f20;left:536.83px;width:400px;text-align:center;transform:scaleX(0.8818);letter-spacing:0.08px;">2nd dose</div>
<div class="t" style="top:479px;font-size:8.1px;line-height:9.72px;color:#3a2747;left:512.30px;width:400px;text-align:center;transform:scaleX(0.8820);letter-spacing:0.08px;">See Notes</div>
<div class="t" style="top:505px;font-size:8.1px;line-height:9.72px;color:#3a2747;left:517.90px;width:400px;text-align:center;transform:scaleX(0.8800);letter-spacing:0.08px;">Seasonal administration</div>
<div class="t" style="top:514px;font-size:8.1px;line-height:9.72px;color:#3a2747;left:517.90px;width:400px;text-align:center;transform:scaleX(0.8805);letter-spacing:0.08px;">during pregnancy (See Notes)</div>
<div class="t" style="top:530px;font-size:8.1px;line-height:9.72px;color:#3a2747;left:492.02px;width:400px;text-align:center;transform:scaleX(0.8799);letter-spacing:0.08px;">Seropositive in endemic</div>
<div class="t" style="top:539px;font-size:8.1px;line-height:9.72px;color:#3a2747;left:492.02px;width:400px;text-align:center;transform:scaleX(0.8810);letter-spacing:0.08px;">dengue areas (See Notes)</div>
<div class="t" style="top:300px;font-size:9.6px;line-height:11.52px;color:#fff;font-weight:bold;left:-61.20px;width:400px;text-align:center;">or</div>
<div class="t" style="top:300px;font-size:9.6px;line-height:11.52px;color:#fff;font-weight:bold;left:432.90px;width:400px;text-align:center;">or</div>
</body></html>
